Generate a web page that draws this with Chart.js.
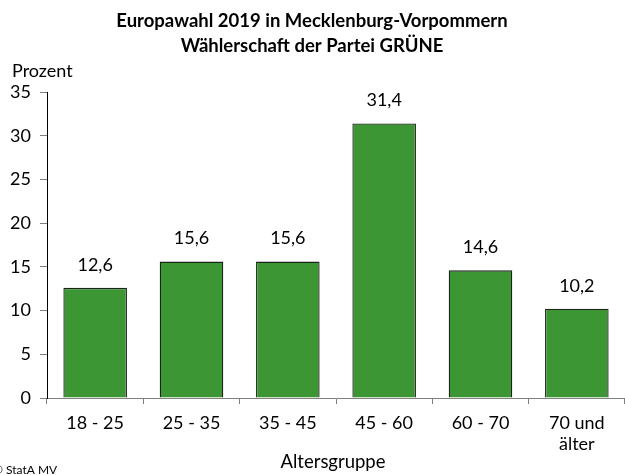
<!DOCTYPE html>
<html><head><meta charset="utf-8">
<script src="https://cdn.jsdelivr.net/npm/chart.js@4.4.1/dist/chart.umd.min.js"></script>
<style>html,body{margin:0;padding:0;background:#fff;overflow:hidden}#wrap{width:625px;height:475px;position:relative}</style>
</head><body><div id="wrap"><canvas id="c" width="625" height="475"></canvas></div>
<script>
const categories = [["18 - 25"], ["25 - 35"], ["35 - 45"], ["45 - 60"], ["60 - 70"], ["70 und", "älter"]];
const values = [12.6, 15.6, 15.6, 31.4, 14.6, 10.2];
const yTicks = [0, 5, 10, 15, 20, 25, 30, 35];
const titleLines = ["Europawahl 2019 in Mecklenburg-Vorpommern", "Wählerschaft der Partei GRÜNE"];
const yTitle = "Prozent";
const xTitle = "Altersgruppe";
const source = "© StatA MV";

const FONT = "Lato, 'Noto Sans', sans-serif";

const textPlugin = {
  id: 'textPlugin',
  afterDraw(chart) {
    const ctx = chart.ctx;
    const xs = chart.scales.x, ys = chart.scales.y;
    ctx.save();
    ctx.fillStyle = '#000';
    ctx.textAlign = 'center';
    ctx.textBaseline = 'middle';
    ctx.font = 'bold 18.5px ' + FONT;
    ctx.fillText(titleLines[0], 312, 21);
    ctx.fillText(titleLines[1], 312, 46);
    ctx.font = '18px ' + FONT;
    ctx.textAlign = 'left';
    ctx.fillText(yTitle, 12, 71);
    ctx.textAlign = 'center';
    ctx.font = '18.5px ' + FONT;
    ctx.fillText(xTitle, 333, 462);
    // data labels
    ctx.font = '18px ' + FONT;
    values.forEach((v, i) => {
      const x = xs.getPixelForValue(i);
      const y = ys.getPixelForValue(v);
      ctx.fillText(v.toFixed(1).replace('.', ','), x, y - 23);
    });
    ctx.font = '12px ' + FONT;
    ctx.textAlign = 'left';
    ctx.fillText(source, -7, 470);
    ctx.restore();
  }
};

new Chart(document.getElementById('c'), {
  type: 'bar',
  data: {
    labels: categories,
    datasets: [{
      data: values,
      backgroundColor: '#3C9634',
      borderColor: '#1a2418',
      borderWidth: 1.3,
      categoryPercentage: 0.66,
      barPercentage: 1.0
    }]
  },
  options: {
    responsive: false,
    animation: false,
    events: [],
    layout: { padding: { top: 92, right: 0, left: 0, bottom: 0 } },
    plugins: { legend: { display: false }, title: { display: false }, tooltip: { enabled: false } },
    scales: {
      x: {
        afterFit(s) { s.height = 77; },
        grid: { display: true, drawOnChartArea: false, drawTicks: true, tickLength: 6, color: '#808080', offset: true },
        border: { display: true, color: '#808080', width: 1 },
        ticks: { color: '#000', font: { family: FONT, size: 18, lineHeight: 1.2 }, padding: 8, maxRotation: 0, autoSkip: false }
      },
      y: {
        min: 0, max: 35,
        afterFit(s) { s.width = 47; },
        afterBuildTicks(s) { s.ticks = yTicks.map(v => ({ value: v })); },
        grid: { display: true, drawOnChartArea: false, drawTicks: true, tickLength: 7, color: '#808080' },
        border: { display: true, color: '#000', width: 1 },
        ticks: { color: '#000', font: { family: FONT, size: 18 }, padding: 9 }
      }
    }
  },
  plugins: [textPlugin]
});
</script></body></html>
